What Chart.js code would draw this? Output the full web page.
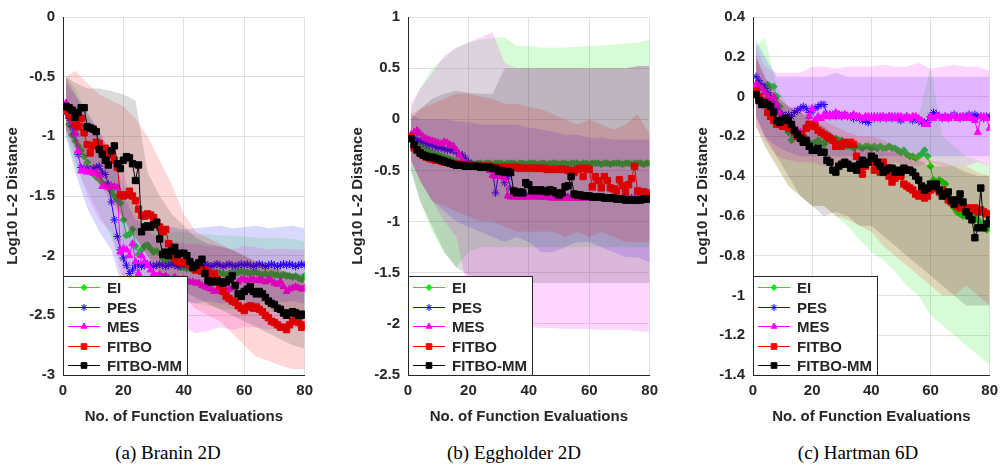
<!DOCTYPE html>
<html>
<head>
<meta charset="utf-8">
<script src="https://cdn.jsdelivr.net/npm/chart.js@4.4.1/dist/chart.umd.min.js"></script>
<style>
    body { margin: 0; background: #fff; width: 1005px; height: 468px; position: relative; overflow: hidden; }
    canvas { position: absolute; top: 0; }
    .cap {
        position: absolute; top: 442px; transform: translateX(-50%); white-space: nowrap;
        font-family: "Liberation Serif", "Times New Roman", serif; font-size: 19px; color: #000;
    }
</style>
</head>
<body>
<canvas id="chartBranin" width="320" height="430" style="left:0"></canvas>
<canvas id="chartEgg" width="320" height="430" style="left:345px"></canvas>
<canvas id="chartHart" width="315" height="430" style="left:690px"></canvas>
<div class="cap" style="left:168px">(a) Branin 2D</div>
<div class="cap" style="left:514px">(b) Eggholder 2D</div>
<div class="cap" style="left:858px">(c) Hartman 6D</div>

<script>
// evaluations 1..80 (x of every mean point), band outline sampled every 4 evaluations
const EVALS = Array.from({ length: 80 }, (_, i) => i + 1);
const BAND_X = [1, 4, 8, 12, 16, 20, 24, 28, 32, 36, 40, 44, 48, 52, 56, 60, 64, 68, 72, 76, 80];

// ============================================================
// (a) Branin 2D
// ============================================================
const BRANIN_EI = [
    -0.8, -0.9, -0.99, -1.04, -1.08, -1.12, -1.17, -1.22, -1.27, -1.31,
    -1.34, -1.36, -1.39, -1.41, -1.43, -1.46, -1.5, -1.53, -1.56, -1.7,
    -1.83, -1.82, -1.78, -1.92, -1.99, -1.95, -1.92, -1.91, -1.94, -1.97,
    -1.96, -1.98, -2.02, -2.04, -2.05, -2.06, -2.05, -2.08, -2.1, -2.1,
    -2.11, -2.1, -2.12, -2.12, -2.13, -2.12, -2.14, -2.13, -2.14, -2.15,
    -2.14, -2.15, -2.15, -2.16, -2.15, -2.14, -2.15, -2.14, -2.13, -2.14,
    -2.14, -2.15, -2.14, -2.14, -2.15, -2.16, -2.15, -2.16, -2.15, -2.16,
    -2.16, -2.17, -2.16, -2.17, -2.17, -2.18, -2.17, -2.19, -2.2, -2.17,
];
const BRANIN_PES = [
    -0.8, -0.85, -0.92, -0.98, -1.15, -1.26, -1.27, -1.27, -1.28, -1.27,
    -1.26, -1.25, -1.3, -1.32, -1.4, -1.55, -1.7, -1.84, -1.95, -2.02,
    -2.08, -2.15, -2.12, -2.08, -2.07, -2.09, -2.08, -2.07, -2.08, -2.09,
    -2.08, -2.07, -2.08, -2.09, -2.08, -2.07, -2.08, -2.09, -2.08, -2.07,
    -2.08, -2.09, -2.08, -2.07, -2.08, -2.09, -2.07, -2.08, -2.09, -2.08,
    -2.07, -2.08, -2.09, -2.08, -2.07, -2.08, -2.09, -2.08, -2.07, -2.08,
    -2.07, -2.08, -2.09, -2.08, -2.07, -2.08, -2.09, -2.08, -2.07, -2.08,
    -2.09, -2.08, -2.07, -2.08, -2.07, -2.08, -2.09, -2.08, -2.07, -2.08,
];
const BRANIN_MES = [
    -0.72, -0.8, -0.88, -0.98, -1.12, -1.29, -1.29, -1.3, -1.29, -1.31,
    -1.3, -1.33, -1.42, -1.42, -1.43, -1.42, -1.42, -1.43, -1.97, -1.94,
    -1.95, -2.0, -1.9, -2.05, -2.15, -2.0, -2.05, -2.08, -2.12, -2.15,
    -2.17, -2.16, -2.18, -2.17, -2.19, -2.2, -2.18, -2.2, -2.21, -2.2,
    -2.21, -2.22, -2.22, -2.23, -2.23, -2.25, -2.26, -2.27, -2.28, -2.3,
    -2.29, -2.3, -2.28, -2.29, -2.28, -2.27, -2.25, -2.22, -2.2, -2.2,
    -2.21, -2.2, -2.2, -2.21, -2.2, -2.21, -2.22, -2.2, -2.21, -2.23,
    -2.24, -2.22, -2.26, -2.3, -2.28, -2.27, -2.26, -2.27, -2.28, -2.27,
];
const BRANIN_FITBO = [
    -0.78, -0.82, -0.84, -0.9, -0.92, -0.85, -0.97, -1.07, -1.14, -1.08,
    -1.05, -1.06, -1.12, -1.1, -1.14, -1.15, -1.2, -1.26, -1.49, -1.5,
    -1.49, -1.46, -1.5, -1.54, -1.61, -1.66, -1.67, -1.65, -1.66, -1.68,
    -1.72, -1.76, -1.8, -1.78, -1.9, -1.99, -2.02, -2.05, -2.06, -2.05,
    -2.06, -2.08, -2.1, -2.12, -2.11, -2.13, -2.12, -2.14, -2.16, -2.15,
    -2.2, -2.25, -2.3, -2.34, -2.36, -2.38, -2.39, -2.42, -2.44, -2.46,
    -2.43, -2.42, -2.44, -2.43, -2.45, -2.47, -2.5, -2.52, -2.55, -2.56,
    -2.58, -2.6, -2.6, -2.62, -2.58, -2.55, -2.53, -2.56, -2.6, -2.58,
];
const BRANIN_MM = [
    -0.75, -0.76, -0.78, -0.84, -0.8, -0.76, -0.76, -0.92, -0.93, -0.94,
    -0.96, -1.11, -1.15, -1.2, -1.24, -1.12, -1.08, -1.23, -1.27, -1.2,
    -1.17, -1.18, -1.23, -1.37, -1.24, -1.8, -1.76, -1.75, -1.76, -1.74,
    -1.72, -1.86, -1.99, -1.97, -2.0, -1.96, -1.93, -1.99, -1.98, -1.98,
    -2.0, -2.05, -2.1, -2.08, -2.06, -2.03, -2.15, -2.21, -2.22, -2.22,
    -2.21, -2.22, -2.23, -2.22, -2.2, -2.17, -2.25, -2.32, -2.34, -2.3,
    -2.28, -2.26, -2.3, -2.32, -2.3, -2.32, -2.35, -2.38, -2.4, -2.41,
    -2.44, -2.45, -2.48, -2.5, -2.48, -2.47, -2.48, -2.5, -2.49, -2.5,
];
const BRANIN_EI_HI = [-0.5, -0.6, -0.8, -1.0, -1.2, -1.4, -1.6, -1.75, -1.8, -1.8, -1.8, -1.82, -1.82, -1.83, -1.83, -1.84, -1.85, -1.85, -1.85, -1.86, -1.88];
const BRANIN_EI_LO = [-1.0, -1.25, -1.45, -1.65, -1.85, -2.1, -2.25, -2.3, -2.32, -2.35, -2.38, -2.4, -2.42, -2.45, -2.45, -2.45, -2.45, -2.47, -2.47, -2.48, -2.5];
const BRANIN_PES_HI = [-0.55, -0.65, -0.8, -0.95, -1.15, -1.5, -1.7, -1.75, -1.78, -1.76, -1.78, -1.77, -1.76, -1.75, -1.77, -1.76, -1.75, -1.77, -1.76, -1.75, -1.77];
const BRANIN_PES_LO = [-1.0, -1.3, -1.6, -1.8, -1.95, -2.3, -2.38, -2.4, -2.38, -2.4, -2.38, -2.4, -2.38, -2.4, -2.39, -2.38, -2.4, -2.38, -2.39, -2.38, -2.4];
const BRANIN_MES_HI = [-0.5, -0.65, -0.85, -1.0, -1.1, -1.3, -1.65, -1.8, -1.85, -1.87, -1.9, -1.9, -1.92, -1.93, -1.95, -1.92, -1.93, -1.95, -1.94, -1.95, -1.95];
const BRANIN_MES_LO = [-0.95, -1.2, -1.5, -1.7, -1.8, -2.25, -2.5, -2.6, -2.62, -2.62, -2.6, -2.65, -2.63, -2.6, -2.62, -2.6, -2.6, -2.62, -2.6, -2.6, -2.62];
const BRANIN_FITBO_HI = [-0.5, -0.45, -0.55, -0.65, -0.7, -0.75, -0.85, -1.0, -1.2, -1.4, -1.65, -1.8, -1.85, -1.9, -1.95, -2.0, -2.05, -2.1, -2.12, -2.15, -2.18];
const BRANIN_FITBO_LO = [-0.95, -1.1, -1.3, -1.4, -1.55, -1.7, -1.85, -2.0, -2.2, -2.3, -2.35, -2.45, -2.5, -2.55, -2.65, -2.75, -2.85, -2.88, -2.92, -2.95, -2.95];
const BRANIN_MM_HI = [-0.5, -0.55, -0.6, -0.6, -0.62, -0.65, -0.7, -1.3, -1.5, -1.65, -1.75, -1.85, -1.9, -1.92, -1.95, -2.0, -2.05, -2.08, -2.12, -2.15, -2.15];
const BRANIN_MM_LO = [-0.95, -1.05, -1.2, -1.35, -1.5, -1.7, -1.85, -2.0, -2.15, -2.25, -2.3, -2.35, -2.4, -2.45, -2.5, -2.55, -2.6, -2.65, -2.7, -2.75, -2.78];

// ============================================================
// (b) Eggholder 2D
// ============================================================
const EGG_EI = [
    -0.19, -0.22, -0.24, -0.26, -0.28, -0.3, -0.31, -0.33, -0.34, -0.35,
    -0.36, -0.37, -0.38, -0.39, -0.4, -0.41, -0.42, -0.42, -0.43, -0.43,
    -0.43, -0.44, -0.43, -0.43, -0.44, -0.43, -0.43, -0.44, -0.43, -0.43,
    -0.43, -0.44, -0.43, -0.43, -0.43, -0.44, -0.43, -0.43, -0.44, -0.43,
    -0.43, -0.43, -0.44, -0.43, -0.43, -0.44, -0.43, -0.43, -0.43, -0.44,
    -0.43, -0.43, -0.44, -0.43, -0.43, -0.43, -0.44, -0.43, -0.43, -0.44,
    -0.43, -0.43, -0.43, -0.44, -0.43, -0.43, -0.44, -0.43, -0.43, -0.43,
    -0.44, -0.43, -0.43, -0.44, -0.43, -0.43, -0.43, -0.44, -0.43, -0.43,
];
const EGG_PES = [
    -0.17, -0.18, -0.2, -0.21, -0.22, -0.24, -0.25, -0.25, -0.27, -0.28,
    -0.28, -0.29, -0.3, -0.3, -0.31, -0.32, -0.34, -0.35, -0.38, -0.42,
    -0.44, -0.45, -0.45, -0.46, -0.46, -0.47, -0.48, -0.5, -0.72, -0.52,
    -0.55, -0.62, -0.56, -0.68, -0.73, -0.74, -0.74, -0.74, -0.74, -0.74,
    -0.74, -0.74, -0.75, -0.75, -0.75, -0.75, -0.75, -0.75, -0.75, -0.75,
    -0.75, -0.75, -0.76, -0.76, -0.76, -0.76, -0.76, -0.76, -0.76, -0.76,
    -0.76, -0.76, -0.76, -0.76, -0.77, -0.77, -0.77, -0.77, -0.77, -0.77,
    -0.77, -0.77, -0.77, -0.77, -0.77, -0.77, -0.77, -0.77, -0.77, -0.77,
];
const EGG_MES = [
    -0.15, -0.13, -0.11, -0.14, -0.17, -0.19, -0.2, -0.21, -0.22, -0.23,
    -0.24, -0.22, -0.23, -0.25, -0.26, -0.3, -0.35, -0.4, -0.43, -0.45,
    -0.45, -0.46, -0.46, -0.47, -0.47, -0.48, -0.5, -0.55, -0.56, -0.54,
    -0.56, -0.58, -0.75, -0.76, -0.76, -0.76, -0.76, -0.76, -0.76, -0.76,
    -0.76, -0.76, -0.76, -0.76, -0.76, -0.76, -0.77, -0.77, -0.77, -0.77,
    -0.77, -0.77, -0.77, -0.77, -0.77, -0.77, -0.77, -0.77, -0.77, -0.77,
    -0.77, -0.77, -0.77, -0.77, -0.77, -0.78, -0.78, -0.78, -0.78, -0.78,
    -0.78, -0.78, -0.78, -0.78, -0.78, -0.78, -0.78, -0.78, -0.78, -0.78,
];
const EGG_FITBO = [
    -0.17, -0.28, -0.3, -0.33, -0.35, -0.37, -0.38, -0.39, -0.4, -0.4,
    -0.41, -0.42, -0.42, -0.43, -0.44, -0.44, -0.44, -0.45, -0.45, -0.45,
    -0.45, -0.46, -0.46, -0.46, -0.46, -0.46, -0.46, -0.47, -0.47, -0.47,
    -0.47, -0.47, -0.47, -0.47, -0.47, -0.47, -0.48, -0.48, -0.48, -0.48,
    -0.48, -0.48, -0.48, -0.48, -0.48, -0.49, -0.49, -0.49, -0.49, -0.49,
    -0.49, -0.49, -0.5, -0.5, -0.52, -0.49, -0.48, -0.56, -0.48, -0.49,
    -0.66, -0.56, -0.6, -0.67, -0.56, -0.6, -0.67, -0.68, -0.7, -0.59,
    -0.65, -0.71, -0.64, -0.58, -0.46, -0.7, -0.71, -0.71, -0.72, -0.75,
];
const EGG_MM = [
    -0.19, -0.25, -0.3, -0.33, -0.35, -0.36, -0.37, -0.37, -0.38, -0.39,
    -0.4, -0.41, -0.42, -0.43, -0.44, -0.45, -0.45, -0.45, -0.46, -0.46,
    -0.46, -0.46, -0.46, -0.47, -0.47, -0.47, -0.47, -0.48, -0.48, -0.51,
    -0.5, -0.52, -0.51, -0.52, -0.7, -0.72, -0.71, -0.72, -0.62, -0.64,
    -0.7, -0.69, -0.7, -0.69, -0.7, -0.71, -0.69, -0.7, -0.72, -0.74,
    -0.72, -0.66, -0.65, -0.56, -0.73, -0.74, -0.74, -0.75, -0.75, -0.75,
    -0.76, -0.76, -0.76, -0.76, -0.77, -0.77, -0.77, -0.77, -0.78, -0.78,
    -0.78, -0.79, -0.79, -0.79, -0.79, -0.79, -0.79, -0.78, -0.78, -0.78,
];
const EGG_EI_HI = [0.1, 0.3, 0.5, 0.6, 0.7, 0.75, 0.78, 0.8, 0.8, 0.72, 0.72, 0.7, 0.7, 0.7, 0.71, 0.72, 0.72, 0.73, 0.74, 0.75, 0.78];
const EGG_EI_LO = [-0.5, -0.8, -1.1, -1.3, -1.45, -1.3, -1.25, -1.25, -1.25, -1.25, -1.25, -1.25, -1.25, -1.25, -1.25, -1.25, -1.25, -1.25, -1.25, -1.25, -1.25];
const EGG_PES_HI = [0.05, 0.0, 0.0, 0.0, -0.02, -0.03, -0.05, -0.05, -0.05, -0.05, -0.08, -0.1, -0.12, -0.15, -0.15, -0.18, -0.18, -0.2, -0.2, -0.2, -0.2];
const EGG_PES_LO = [-0.4, -0.6, -0.8, -0.9, -1.0, -1.05, -1.1, -1.15, -1.2, -1.15, -1.2, -1.3, -1.3, -1.25, -1.2, -1.2, -1.25, -1.3, -1.35, -1.35, -1.4];
const EGG_MES_HI = [0.15, 0.3, 0.45, 0.62, 0.7, 0.75, 0.8, 0.85, 0.55, 0.5, 0.5, 0.5, 0.5, 0.5, 0.5, 0.5, 0.5, 0.5, 0.5, 0.52, 0.52];
const EGG_MES_LO = [-0.4, -0.6, -0.8, -1.0, -1.15, -1.7, -2.0, -2.0, -2.0, -2.02, -2.03, -2.04, -2.04, -2.05, -2.05, -2.05, -2.06, -2.06, -2.06, -2.07, -2.08];
const EGG_FITBO_HI = [0.05, 0.1, 0.15, 0.2, 0.25, 0.25, 0.22, 0.2, 0.15, 0.15, 0.12, 0.1, 0.05, 0.0, -0.05, 0.0, -0.05, -0.1, -0.05, 0.05, -0.15];
const EGG_FITBO_LO = [-0.4, -0.6, -0.8, -0.85, -0.9, -0.95, -1.0, -1.0, -1.05, -1.1, -1.1, -1.1, -1.1, -1.15, -1.1, -1.15, -1.1, -1.15, -1.2, -1.2, -1.2];
const EGG_MM_HI = [0.0, 0.1, 0.2, 0.25, 0.28, 0.26, 0.25, 0.25, 0.5, 0.5, 0.5, 0.5, 0.5, 0.5, 0.5, 0.5, 0.5, 0.5, 0.5, 0.52, 0.52];
const EGG_MM_LO = [-0.5, -0.8, -1.05, -1.3, -1.45, -1.52, -1.55, -1.57, -1.58, -1.58, -1.6, -1.6, -1.6, -1.6, -1.6, -1.6, -1.6, -1.6, -1.6, -1.6, -1.6];

// ============================================================
// (c) Hartman 6D
// ============================================================
const HART_EI = [
    0.03, 0.04, 0.05, 0.05, 0.06, 0.05, 0.05, 0.0, -0.05, -0.1,
    -0.14, -0.18, -0.22, -0.2, -0.2, -0.22, -0.21, -0.22, -0.23, -0.24,
    -0.23, -0.22, -0.23, -0.24, -0.22, -0.2, -0.22, -0.21, -0.22, -0.22,
    -0.24, -0.25, -0.25, -0.26, -0.25, -0.25, -0.26, -0.25, -0.25, -0.26,
    -0.25, -0.26, -0.25, -0.26, -0.26, -0.25, -0.26, -0.26, -0.27, -0.28,
    -0.27, -0.29, -0.3, -0.3, -0.31, -0.3, -0.29, -0.27, -0.3, -0.35,
    -0.42, -0.43, -0.42, -0.43, -0.44, -0.52, -0.54, -0.56, -0.58, -0.59,
    -0.6, -0.58, -0.6, -0.61, -0.6, -0.62, -0.64, -0.66, -0.67, -0.66,
];
const HART_PES = [
    0.1, 0.08, 0.06, 0.04, 0.02, 0.0, -0.03, -0.06, -0.08, -0.09,
    -0.1, -0.09, -0.1, -0.08, -0.07, -0.06, -0.05, -0.06, -0.08, -0.07,
    -0.06, -0.05, -0.04, -0.04, -0.09, -0.1, -0.09, -0.1, -0.09, -0.1,
    -0.09, -0.1, -0.1, -0.11, -0.1, -0.11, -0.12, -0.12, -0.13, -0.1,
    -0.11, -0.1, -0.11, -0.1, -0.11, -0.1, -0.11, -0.1, -0.11, -0.12,
    -0.11, -0.1, -0.11, -0.12, -0.11, -0.12, -0.13, -0.13, -0.13, -0.1,
    -0.08, -0.09, -0.1, -0.11, -0.1, -0.11, -0.1, -0.09, -0.1, -0.11,
    -0.1, -0.1, -0.09, -0.1, -0.09, -0.1, -0.1, -0.11, -0.1, -0.1,
];
const HART_MES = [
    0.06, 0.05, 0.04, 0.02, 0.0, -0.02, 0.0, -0.04, -0.08, -0.12,
    -0.13, -0.12, -0.14, -0.16, -0.17, -0.18, -0.19, -0.15, -0.1, -0.06,
    -0.12, -0.1, -0.11, -0.09, -0.1, -0.09, -0.1, -0.08, -0.09, -0.1,
    -0.09, -0.1, -0.1, -0.09, -0.1, -0.1, -0.11, -0.1, -0.1, -0.11,
    -0.1, -0.11, -0.1, -0.1, -0.11, -0.1, -0.1, -0.11, -0.1, -0.1,
    -0.11, -0.1, -0.11, -0.1, -0.1, -0.11, -0.12, -0.14, -0.14, -0.1,
    -0.11, -0.1, -0.1, -0.11, -0.1, -0.11, -0.1, -0.1, -0.11, -0.1,
    -0.1, -0.11, -0.1, -0.11, -0.12, -0.18, -0.1, -0.1, -0.11, -0.16,
];
const HART_FITBO = [
    0.03, 0.0, -0.02, -0.04, -0.08, -0.1, -0.12, -0.14, -0.12, -0.15,
    -0.15, -0.16, -0.15, -0.18, -0.2, -0.19, -0.21, -0.16, -0.14, -0.15,
    -0.15, -0.17, -0.18, -0.19, -0.2, -0.21, -0.22, -0.25, -0.24, -0.25,
    -0.23, -0.24, -0.23, -0.24, -0.3, -0.36, -0.39, -0.35, -0.33, -0.33,
    -0.37, -0.36, -0.38, -0.33, -0.36, -0.4, -0.43, -0.41, -0.39, -0.4,
    -0.44, -0.45, -0.46, -0.47, -0.49, -0.5, -0.48, -0.51, -0.5, -0.47,
    -0.45, -0.46, -0.48, -0.47, -0.5, -0.52, -0.53, -0.54, -0.55, -0.56,
    -0.55, -0.57, -0.56, -0.57, -0.56, -0.58, -0.57, -0.58, -0.59, -0.59,
];
const HART_MM = [
    0.01, -0.02, -0.04, -0.03, -0.04, -0.05, -0.08, -0.12, -0.13, -0.12,
    -0.11, -0.12, -0.14, -0.17, -0.19, -0.21, -0.23, -0.22, -0.25, -0.27,
    -0.27, -0.26, -0.28, -0.28, -0.32, -0.33, -0.37, -0.38, -0.35, -0.34,
    -0.33, -0.34, -0.36, -0.35, -0.37, -0.34, -0.32, -0.34, -0.33, -0.3,
    -0.31, -0.33, -0.35, -0.38, -0.37, -0.36, -0.36, -0.38, -0.37, -0.38,
    -0.36, -0.37, -0.37, -0.38, -0.4, -0.42, -0.45, -0.47, -0.46, -0.44,
    -0.45, -0.44, -0.47, -0.5, -0.49, -0.48, -0.52, -0.54, -0.52, -0.49,
    -0.53, -0.58, -0.6, -0.62, -0.71, -0.66, -0.46, -0.66, -0.64, -0.62,
];
const HART_EI_HI = [0.25, 0.3, 0.05, -0.05, -0.08, -0.1, -0.1, -0.1, -0.12, -0.12, -0.12, -0.1, -0.1, -0.12, -0.1, 0.15, -0.2, -0.25, -0.3, -0.32, -0.35];
const HART_EI_LO = [-0.15, -0.25, -0.35, -0.45, -0.5, -0.55, -0.55, -0.6, -0.65, -0.72, -0.78, -0.82, -0.88, -0.95, -1.0, -1.1, -1.15, -1.2, -1.25, -1.3, -1.35];
const HART_PES_HI = [0.28, 0.2, 0.1, 0.1, 0.1, 0.1, 0.1, 0.12, 0.1, 0.1, 0.1, 0.1, 0.1, 0.1, 0.1, 0.1, 0.1, 0.1, 0.1, 0.1, 0.1];
const HART_PES_LO = [-0.1, -0.2, -0.25, -0.28, -0.3, -0.3, -0.3, -0.3, -0.3, -0.3, -0.3, -0.3, -0.3, -0.3, -0.3, -0.3, -0.3, -0.3, -0.3, -0.3, -0.3];
const HART_MES_HI = [0.25, 0.15, 0.12, 0.12, 0.12, 0.15, 0.15, 0.14, 0.15, 0.15, 0.15, 0.16, 0.15, 0.15, 0.17, 0.14, 0.15, 0.16, 0.15, 0.15, 0.13];
const HART_MES_LO = [-0.15, -0.22, -0.3, -0.32, -0.33, -0.33, -0.35, -0.35, -0.35, -0.33, -0.35, -0.35, -0.33, -0.35, -0.35, -0.33, -0.35, -0.35, -0.35, -0.33, -0.35];
const HART_FITBO_HI = [0.2, 0.1, 0.0, -0.05, -0.05, -0.1, -0.12, -0.15, -0.18, -0.2, -0.2, -0.22, -0.25, -0.28, -0.3, -0.32, -0.33, -0.35, -0.35, -0.38, -0.4];
const HART_FITBO_LO = [-0.15, -0.25, -0.35, -0.45, -0.5, -0.55, -0.55, -0.6, -0.62, -0.65, -0.68, -0.75, -0.8, -0.85, -0.9, -0.95, -1.0, -1.0, -0.95, -1.0, -1.05];
const HART_MM_HI = [0.2, 0.1, 0.0, -0.05, -0.08, -0.12, -0.15, -0.2, -0.22, -0.25, -0.25, -0.28, -0.28, -0.3, -0.32, -0.35, -0.35, -0.35, -0.38, -0.4, -0.4];
const HART_MM_LO = [-0.1, -0.2, -0.3, -0.4, -0.5, -0.55, -0.6, -0.58, -0.6, -0.65, -0.65, -0.7, -0.75, -0.8, -0.85, -0.9, -0.95, -1.0, -1.05, -1.05, -1.05];

// ============================================================
// Styles
// ============================================================
const METHODS = [
    { label: 'EI', color: '#00ee00', band: 'rgba(0, 230, 0, 0.16)', point: 'rectRot', radius: 3.5 },
    { label: 'PES', color: '#0000ff', band: 'rgba(0, 0, 255, 0.15)', point: 'star', radius: 4 },
    { label: 'MES', color: '#ff00ff', band: 'rgba(255, 0, 255, 0.16)', point: 'triangle', radius: 4 },
    { label: 'FITBO', color: '#ff0000', band: 'rgba(255, 0, 0, 0.15)', point: 'rect', radius: 4.5 },
    { label: 'FITBO-MM', color: '#000000', band: 'rgba(0, 0, 0, 0.14)', point: 'rect', radius: 4.5 },
];
const TXT = '#262626';
const FONT = { family: '"Liberation Sans", Arial, sans-serif', size: 15, weight: 'bold' };

function xy(xs, ys) {
    return xs.map((x, i) => ({ x, y: ys[i] }));
}

// line, then its band on top (like the original plot order)
function buildDatasets(series) {
    const sets = [];
    series.forEach((s, k) => {
        const m = METHODS[k];
        sets.push({
            label: m.label,
            data: xy(EVALS, s[0]),
            borderColor: m.color,
            backgroundColor: m.color,
            pointBorderColor: m.color,
            borderWidth: 1,
            pointStyle: m.point,
            pointRadius: m.radius,
            pointBorderWidth: 1,
            fill: false,
        });
        sets.push({ data: xy(BAND_X, s[2]), borderWidth: 0, pointRadius: 0, fill: false });
        sets.push({ data: xy(BAND_X, s[1]), borderWidth: 0, pointRadius: 0, fill: '-1', backgroundColor: m.band });
    });
    sets.forEach((d, i) => { d.order = -i; });
    return sets;
}

const boxLegend = {
    id: 'boxLegend',
    afterDraw(chart) {
        const { ctx, chartArea } = chart;
        const w = 125, h = 99;
        const x0 = chartArea.left, y0 = chartArea.bottom - h;
        ctx.save();
        ctx.fillStyle = '#fff';
        ctx.fillRect(x0, y0, w, h);
        ctx.strokeStyle = TXT;
        ctx.lineWidth = 1;
        ctx.strokeRect(x0 + 0.5, y0 + 0.5, w - 1, h);
        METHODS.forEach((m, i) => {
            const y = Math.round(y0 + 11 + i * 19.5) + 0.5;
            ctx.strokeStyle = m.color;
            ctx.fillStyle = m.color;
            ctx.lineWidth = 1;
            ctx.beginPath();
            ctx.moveTo(x0 + 5, y);
            ctx.lineTo(x0 + 37, y);
            ctx.stroke();
            Chart.helpers.drawPoint(ctx, { pointStyle: m.point, radius: m.radius - 0.5, rotation: 0, borderWidth: 1 }, x0 + 21, y);
            ctx.fillStyle = TXT;
            ctx.font = 'bold 15px "Liberation Sans", Arial, sans-serif';
            ctx.textBaseline = 'middle';
            ctx.fillText(m.label, x0 + 44, y + 1);
        });
        ctx.restore();
    },
};

// matlab style tick text: 0, -0.5, -1, 0.2 ...
const tickText = (v) => String(Number(v.toFixed(1)));

function makeChart(id, series, yMin, yMax, yStep, pad) {
    new Chart(document.getElementById(id), {
        type: 'line',
        data: { datasets: buildDatasets(series) },
        options: {
            responsive: false,
            animation: false,
            devicePixelRatio: 1,
            layout: { padding: pad },
            plugins: { legend: { display: false }, tooltip: { enabled: false } },
            scales: {
                x: {
                    type: 'linear', min: 0, max: 80,
                    ticks: { stepSize: 20, padding: 7, color: TXT, font: FONT },
                    grid: { color: '#e1e1e1', drawTicks: false },
                    border: { color: TXT },
                    title: { display: true, text: 'No. of Function Evaluations', color: TXT, font: FONT, padding: { top: 0, bottom: 4 } },
                    afterFit: (s) => { s.height = 55; },
                },
                y: {
                    min: yMin, max: yMax,
                    ticks: { stepSize: yStep, padding: 8, color: TXT, font: FONT, callback: tickText },
                    grid: { color: '#e1e1e1', drawTicks: false },
                    border: { color: TXT },
                    title: { display: true, text: 'Log10 L-2 Distance', color: TXT, font: FONT, padding: { top: 4, bottom: 0 } },
                    afterFit: (s) => { s.width = 63; },
                },
            },
        },
        plugins: [boxLegend],
    });
}

makeChart('chartBranin', [
    [BRANIN_EI, BRANIN_EI_HI, BRANIN_EI_LO],
    [BRANIN_PES, BRANIN_PES_HI, BRANIN_PES_LO],
    [BRANIN_MES, BRANIN_MES_HI, BRANIN_MES_LO],
    [BRANIN_FITBO, BRANIN_FITBO_HI, BRANIN_FITBO_LO],
    [BRANIN_MM, BRANIN_MM_HI, BRANIN_MM_LO],
], -3, 0, 0.5, { top: 12, right: 14, left: 0, bottom: 0 });

makeChart('chartEgg', [
    [EGG_EI, EGG_EI_HI, EGG_EI_LO],
    [EGG_PES, EGG_PES_HI, EGG_PES_LO],
    [EGG_MES, EGG_MES_HI, EGG_MES_LO],
    [EGG_FITBO, EGG_FITBO_HI, EGG_FITBO_LO],
    [EGG_MM, EGG_MM_HI, EGG_MM_LO],
], -2.5, 1, 0.5, { top: 10, right: 14, left: 0, bottom: 0 });

makeChart('chartHart', [
    [HART_EI, HART_EI_HI, HART_EI_LO],
    [HART_PES, HART_PES_HI, HART_PES_LO],
    [HART_MES, HART_MES_HI, HART_MES_LO],
    [HART_FITBO, HART_FITBO_HI, HART_FITBO_LO],
    [HART_MM, HART_MM_HI, HART_MM_LO],
], -1.4, 0.4, 0.2, { top: 12, right: 9, left: 0, bottom: 0 });
</script>
</body>
</html>
